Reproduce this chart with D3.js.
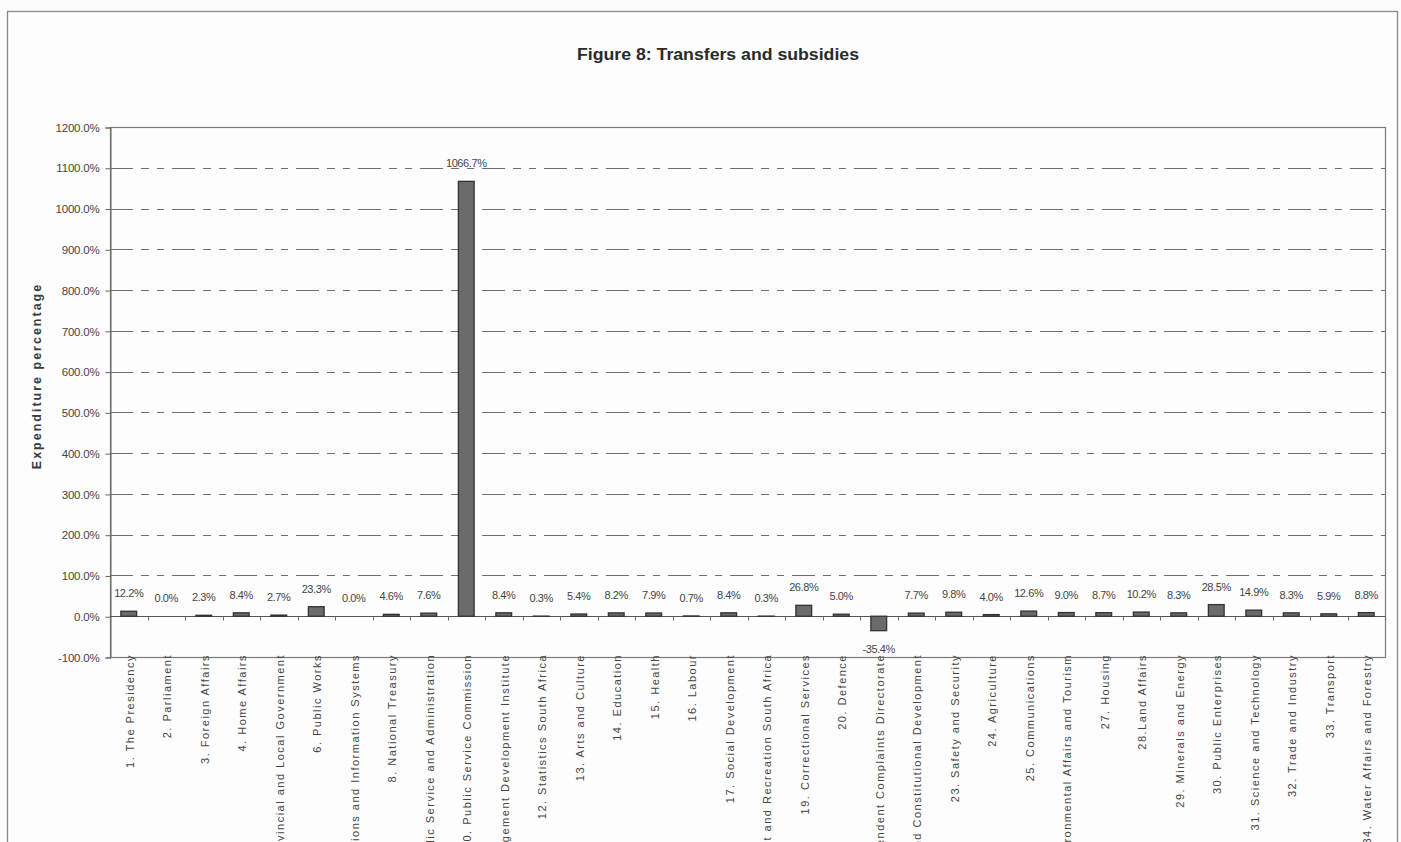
<!DOCTYPE html>
<html>
<head>
<meta charset="utf-8">
<script src="https://cdn.jsdelivr.net/npm/d3@7/dist/d3.min.js"></script>
<style>
  html, body { margin: 0; padding: 0; background: #fcfcfc; }
  svg { display: block; }
  text { font-family: "Liberation Sans", Arial, sans-serif; }
</style>
</head>
<body>
<svg id="chart" width="1401" height="842"></svg>
<script>
// Departmental votes
const categories = [
  "1. The Presidency",
  "2.  Parliament",
  "3.  Foreign Affairs",
  "4.  Home Affairs",
  "5.  Provincial and Local Government",
  "6.  Public Works",
  "7.  Government Communications and Information Systems",
  "8.  National Treasury",
  "9.  Public Service and Administration",
  "10. Public Service Commission",
  "11. South African Management Development Institute",
  "12. Statistics South Africa",
  "13. Arts and Culture",
  "14. Education",
  "15. Health",
  "16. Labour",
  "17. Social Development",
  "18. Sport and Recreation South Africa",
  "19. Correctional Services",
  "20. Defence",
  "21. Independent Complaints Directorate",
  "22. Justice and Constitutional Development",
  "23. Safety and Security",
  "24. Agriculture",
  "25. Communications",
  "26. Environmental Affairs and Tourism",
  "27. Housing",
  "28.Land Affairs",
  "29. Minerals and Energy",
  "30. Public Enterprises",
  "31. Science and Technology",
  "32. Trade and Industry",
  "33. Transport",
  "34. Water Affairs and Forestry"
];

// Transfers and subsidies, expenditure percentage per vote
const values = [
  12.2, 0.0, 2.3, 8.4, 2.7, 23.3, 0.0, 4.6, 7.6, 1066.7,
  8.4, 0.3, 5.4, 8.2, 7.9, 0.7, 8.4, 0.3, 26.8, 5.0,
  -35.4, 7.7, 9.8, 4.0, 12.6, 9.0, 8.7, 10.2, 8.3, 28.5,
  14.9, 8.3, 5.9, 8.8
];

// Value axis ticks
const yTicks = [-100, 0, 100, 200, 300, 400, 500, 600, 700, 800, 900, 1000, 1100, 1200];

const titleText = "Figure 8: Transfers and subsidies";
const yAxisTitle = "Expenditure percentage";

const svg = d3.select("#chart");

const plot = { left: 110, right: 1385, top: 127, bottom: 657 };

const x = d3.scaleBand()
  .domain(categories)
  .range([plot.left, plot.right])
  .padding(0);

const y = d3.scaleLinear()
  .domain([d3.min(yTicks), d3.max(yTicks)])
  .range([plot.bottom, plot.top]);

const fmt = v => v.toFixed(1) + "%";

// Outer chart frame
svg.append("rect")
  .attr("x", 7.5).attr("y", 11.5)
  .attr("width", 1390).attr("height", 900)
  .attr("fill", "#fdfdfd")
  .attr("stroke", "#8a8a8a")
  .attr("stroke-width", 1.3);

// Title
svg.append("text")
  .attr("x", 718).attr("y", 60)
  .attr("text-anchor", "middle")
  .attr("font-size", 16)
  .attr("font-weight", "bold")
  .attr("fill", "#2a2a2a")
  .attr("textLength", 282)
  .attr("lengthAdjust", "spacingAndGlyphs")
  .text(titleText);

// Gridlines (dashed) for interior ticks
svg.append("g")
  .selectAll("line")
  .data(yTicks.filter(t => t !== 0 && t !== d3.min(yTicks) && t !== d3.max(yTicks)))
  .join("line")
  .attr("x1", plot.left).attr("x2", plot.right)
  .attr("y1", d => Math.round(y(d)) + 0.5)
  .attr("y2", d => Math.round(y(d)) + 0.5)
  .attr("stroke", "#6e6e6e")
  .attr("stroke-width", 1.2)
  .attr("stroke-dasharray", "23,8,8,8,7,8");

// Plot area border
svg.append("rect")
  .attr("x", plot.left + 0.5).attr("y", Math.round(y(1200)) + 0.5)
  .attr("width", plot.right - plot.left)
  .attr("height", Math.round(y(-100)) - Math.round(y(1200)))
  .attr("fill", "none")
  .attr("stroke", "#7a7a7a")
  .attr("stroke-width", 1.2);

// Value axis
const yAxis = d3.axisLeft(y)
  .tickValues(yTicks)
  .tickFormat(fmt)
  .tickSize(5)
  .tickPadding(6);

const gy = svg.append("g")
  .attr("transform", `translate(${plot.left + 0.5},0.5)`)
  .call(yAxis);
gy.select(".domain").attr("stroke", "#666");
gy.selectAll(".tick line").attr("stroke", "#666");
gy.selectAll(".tick text")
  .attr("font-size", 11.5)
  .attr("fill", "#454545")
  .attr("letter-spacing", "-0.2px")
  .style("font-family", "'Liberation Sans', Arial, sans-serif");

// Value axis title
svg.append("text")
  .attr("transform", `translate(41,376) rotate(-90)`)
  .attr("text-anchor", "middle")
  .attr("font-size", 12.5)
  .attr("font-weight", "bold")
  .attr("fill", "#3a3a3a")
  .attr("letter-spacing", "2px")
  .text(yAxisTitle);

// Category axis line at zero with boundary ticks
const y0 = Math.round(y(0)) + 0.5;
svg.append("line")
  .attr("x1", plot.left).attr("x2", plot.right)
  .attr("y1", y0).attr("y2", y0)
  .attr("stroke", "#555").attr("stroke-width", 1.2);

svg.append("g")
  .selectAll("line")
  .data(categories)
  .join("line")
  .attr("x1", d => Math.round(x(d) + x.bandwidth()) + 0.5)
  .attr("x2", d => Math.round(x(d) + x.bandwidth()) + 0.5)
  .attr("y1", y0).attr("y2", y0 + 4)
  .attr("stroke", "#666");

// Bars
const barW = x.bandwidth() * 0.42;
svg.append("g")
  .selectAll("rect")
  .data(values)
  .join("rect")
  .attr("x", (d, i) => x(categories[i]) + (x.bandwidth() - barW) / 2)
  .attr("y", d => y(Math.max(0, d)))
  .attr("width", barW)
  .attr("height", d => Math.abs(y(d) - y(0)))
  .attr("fill", "#6b6b6b")
  .attr("stroke", "#333")
  .attr("stroke-width", 1.3);

// Data labels
svg.append("g")
  .selectAll("text")
  .data(values)
  .join("text")
  .attr("x", (d, i) => x(categories[i]) + x.bandwidth() / 2)
  .attr("y", d => d >= 0 ? y(d) - 14 : y(d) + 22)
  .attr("text-anchor", "middle")
  .attr("font-size", 11)
  .attr("fill", "#444")
  .attr("letter-spacing", "-0.4px")
  .text(d => fmt(d));

// Category labels, rotated, hanging from the bottom of the plot area
svg.append("g")
  .selectAll("text")
  .data(categories)
  .join("text")
  .attr("transform", d => `translate(${x(d) + x.bandwidth() / 2 + 1},${plot.bottom - 3}) rotate(-90)`)
  .attr("dy", "0.35em")
  .attr("text-anchor", "end")
  .attr("font-size", 11)
  .attr("fill", "#454545")
  .attr("letter-spacing", "1.5px")
  .text(d => d);
</script>
</body>
</html>
